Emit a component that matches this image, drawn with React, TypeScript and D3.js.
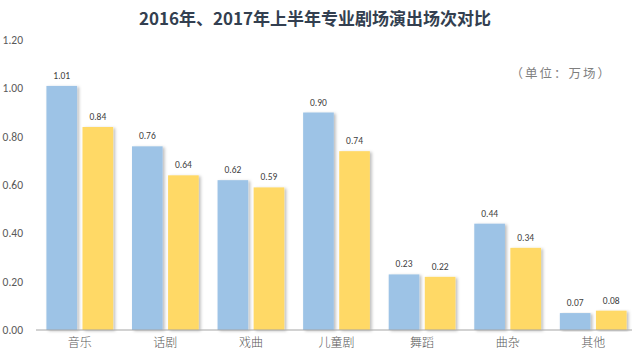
import { useEffect, useRef } from "react"
import * as d3 from "d3"

const categories = ["音乐", "话剧", "戏曲", "儿童剧", "舞蹈", "曲杂", "其他"]
const series = ["2016年上半年", "2017年上半年"]
const values2016 = [1.01, 0.76, 0.62, 0.9, 0.23, 0.44, 0.07]
const values2017 = [0.84, 0.64, 0.59, 0.74, 0.22, 0.34, 0.08]
const yTicks = [0, 0.2, 0.4, 0.6, 0.8, 1.0, 1.2]
const colors = ["#9dc3e6", "#ffd966"]

export default function App() {
  const ref = useRef<SVGSVGElement | null>(null)

  useEffect(() => {
    const svg = d3.select(ref.current)
    svg.selectAll("*").remove()

    const width = 635
    const height = 351

    svg.attr("width", width).attr("height", height)

    const defs = svg.append("defs")
    const filter = defs.append("filter")
      .attr("id", "shadow")
      .attr("x", "-20%").attr("y", "-5%")
      .attr("width", "150%").attr("height", "115%")
    filter.append("feDropShadow")
      .attr("dx", 2).attr("dy", 1)
      .attr("stdDeviation", 1.5)
      .attr("flood-color", "#000")
      .attr("flood-opacity", 0.25)

    const x0 = d3.scaleBand<string>()
      .domain(categories)
      .range([37, 636])
      .paddingInner(0.22)
      .paddingOuter(0.11)

    const x1 = d3.scaleBand<string>()
      .domain(series)
      .range([0, x0.bandwidth()])
      .paddingInner(0.15)

    const y = d3.scaleLinear().domain([0, 1.2]).range([330, 40])

    // title
    svg.append("text")
      .attr("x", 315).attr("y", 25)
      .attr("text-anchor", "middle")
      .attr("font-family", "'Noto Sans CJK SC', sans-serif")
      .attr("font-size", 17)
      .attr("font-weight", "bold")
      .attr("fill", "#333f50")
      .text("2016年、2017年上半年专业剧场演出场次对比")

    // unit
    svg.append("text")
      .attr("x", 612).attr("y", 78)
      .attr("text-anchor", "end")
      .attr("font-family", "'Noto Sans CJK SC', sans-serif")
      .attr("font-size", 12.5)
      .attr("letter-spacing", 2)
      .attr("fill", "#7f7f7f")
      .text("（单位：万场）")

    // y tick labels
    svg.append("g")
      .selectAll("text")
      .data(yTicks)
      .enter()
      .append("text")
      .attr("x", 23)
      .attr("y", d => y(d) + 4)
      .attr("text-anchor", "end")
      .attr("font-family", "Calibri, 'Liberation Sans', sans-serif")
      .attr("font-size", 11.5)
      .attr("fill", "#595959")
      .text(d => d.toFixed(2))

    const rows = categories.map((c, i) => ({
      cat: c,
      vals: [values2016[i], values2017[i]],
    }))

    const groups = svg.append("g")
      .selectAll("g")
      .data(rows)
      .enter()
      .append("g")
      .attr("transform", d => `translate(${x0(d.cat)},0)`)

    groups.selectAll("rect")
      .data(d => d.vals.map((v, i) => ({ s: series[i], v, i })))
      .enter()
      .append("rect")
      .attr("x", d => x1(d.s)!)
      .attr("y", d => y(d.v))
      .attr("width", x1.bandwidth())
      .attr("height", d => y(0) - y(d.v))
      .attr("fill", d => colors[d.i])
      .attr("filter", "url(#shadow)")

    groups.selectAll("text")
      .data(d => d.vals.map((v, i) => ({ s: series[i], v, i })))
      .enter()
      .append("text")
      .attr("x", d => x1(d.s)! + x1.bandwidth() / 2)
      .attr("y", d => y(d.v) - 7)
      .attr("text-anchor", "middle")
      .attr("font-family", "Calibri, 'Liberation Sans', sans-serif")
      .attr("font-size", 9.5)
      .attr("fill", "#404040")
      .text(d => d.v.toFixed(2))

    // baseline
    svg.append("line")
      .attr("x1", 36).attr("x2", 632)
      .attr("y1", y(0)).attr("y2", y(0))
      .attr("stroke", "#a6a6a6")
      .attr("stroke-width", 1.2)

    // category labels
    svg.append("g")
      .selectAll("text")
      .data(categories)
      .enter()
      .append("text")
      .attr("x", d => x0(d)! + x0.bandwidth() / 2)
      .attr("y", 347)
      .attr("text-anchor", "middle")
      .attr("font-family", "'Noto Sans CJK SC', sans-serif")
      .attr("font-size", 12)
      .attr("font-weight", 300)
      .attr("fill", "#595959")
      .text(d => d)
  }, [])

  return <svg ref={ref} style={{ position: "absolute", left: 0, top: 0, background: "#fff" }} />
}
